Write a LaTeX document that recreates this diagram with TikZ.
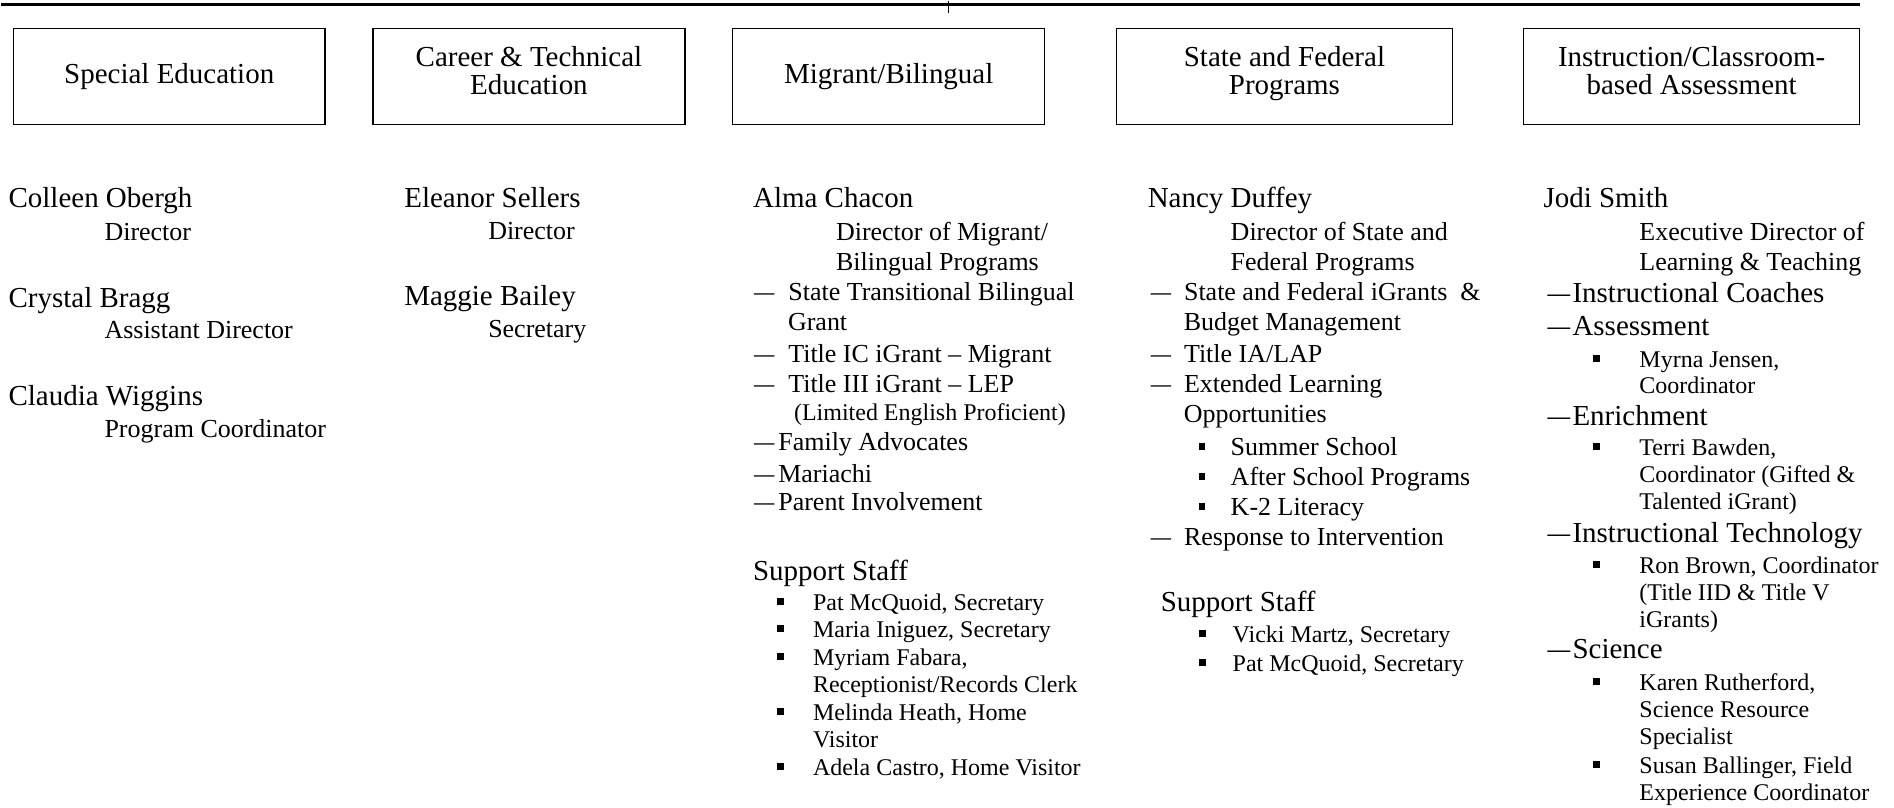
\documentclass[tikz,border=0pt]{standalone}
\usepackage{fontspec}
\setmainfont{Liberation Serif}
\usepackage{graphicx}
\usepackage{tikz}
\usetikzlibrary{positioning}
\newcommand{\sdash}{\scalebox{0.78}[1]{\textemdash}}

\begin{document}
\begin{tikzpicture}[x=0.75pt,y=0.75pt,yscale=-1,xscale=1,
  deptbox/.style={draw, line width=1pt, minimum width=234pt, minimum height=72pt, inner sep=0pt, align=center, font=\fontsize{21.75}{21}\selectfont},
  twoline/.style={text depth=9pt},
  widebox/.style={deptbox, minimum width=252pt},
  person/.style={anchor=base west, inner sep=0pt, font=\fontsize{21.75}{26}\selectfont},
  duty/.style={anchor=base west, inner sep=0pt, font=\fontsize{19.5}{23}\selectfont},
  staffline/.style={anchor=base west, inner sep=0pt, font=\fontsize{18}{21}\selectfont},
  sqbullet/.style={fill, inner sep=0pt, minimum size=5.25pt}]
\path (0,0) rectangle (1894,807); %page size of the reference
%Top rule and tick
\coordinate (ruleL) at (0,4);
\coordinate (ruleR) at (1860,4);
\coordinate (tickT) at (948,0);
\coordinate (tickB) at (948,12);
\draw [line width=2pt] (ruleL) -- (ruleR);
\draw [line width=1pt] (tickT) -- (tickB);
% Department boxes
\draw (168,76) node [deptbox] (special) {Special Education};
\draw (528,76) node [deptbox, twoline] (career) {Career \& Technical\\Education};
\draw (888,76) node [deptbox] (migrant) {Migrant/Bilingual};
\draw (1284,76) node [widebox, twoline] (statefed) {State and Federal\\Programs};
\draw (1691.5,76) node [widebox, twoline] (instruct) {Instruction/Classroom-\\based Assessment};
% Special Education staff
\draw (7,207) node [person] (colleen) {Colleen Obergh};
\draw (103,240) node [duty] (colleenR) {Director};
\draw (7,307) node [person] (crystal) {Crystal Bragg};
\draw (103,338) node [duty] (crystalR) {Assistant Director};
\draw (7,405) node [person] (claudia) {Claudia Wiggins};
\draw (103,437) node [duty] (claudiaR) {Program Coordinator};
% Career & Technical staff
\draw (403,207) node [person] (eleanor) {Eleanor Sellers};
\draw (487,239) node [duty] (eleanorR) {Director};
\draw (403,305) node [person] (maggie) {Maggie Bailey};
\draw (487,337) node [duty] (maggieR) {Secretary};
% Migrant/Bilingual
\draw (752,207) node [person] (alma) {Alma Chacon};
\draw (835,240) node [duty] (almaR1) {Director of Migrant/};
\draw (835,270) node [duty] (almaR2) {Bilingual Programs};
\draw (753,300) node [duty] (mb1) {\sdash\hspace{10.5pt}State Transitional Bilingual};
\draw (787,330) node [duty] (mb1b) {Grant};
\draw (753,362) node [duty] (mb2) {\sdash\hspace{10.5pt}Title IC iGrant \textendash{} Migrant};
\draw (753,392) node [duty] (mb3) {\sdash\hspace{10.5pt}Title III iGrant \textendash{} LEP};
\draw (793,420) node [staffline] (mb3b) {(Limited English Proficient)};
\draw (753,450) node [duty] (mb4) {\sdash\hspace{3pt}Family Advocates};
\draw (753,482) node [duty] (mb5) {\sdash\hspace{3pt}Mariachi};
\draw (753,510) node [duty] (mb6) {\sdash\hspace{3pt}Parent Involvement};
\draw (752,580) node [person] (mbstaff) {Support Staff};
\draw (780,601) node [sqbullet] (mbq1) {};
\draw (812,610) node [staffline] (mbs1) {Pat McQuoid, Secretary};
\draw (780,628) node [sqbullet] (mbq2) {};
\draw (812,637) node [staffline] (mbs2) {Maria Iniguez, Secretary};
\draw (780,656) node [sqbullet] (mbq3) {};
\draw (812,665) node [staffline] (mbs3) {Myriam Fabara,};
\draw (812,692) node [staffline] (mbs3b) {Receptionist/Records Clerk};
\draw (780,711) node [sqbullet] (mbq4) {};
\draw (812,720) node [staffline] (mbs4) {Melinda Heath, Home};
\draw (812,747) node [staffline] (mbs4b) {Visitor};
\draw (780,766) node [sqbullet] (mbq5) {};
\draw (812,775) node [staffline] (mbs5) {Adela Castro, Home Visitor};
% State and Federal Programs
\draw (1147,207) node [person] (nancy) {Nancy Duffey};
\draw (1230,240) node [duty] (nancyR1) {Director of State and};
\draw (1230,270) node [duty] (nancyR2) {Federal Programs};
\draw (1150,300) node [duty] (sf1) {\sdash\hspace{9.75pt}State and Federal iGrants\ \ \&};
\draw (1183,330) node [duty] (sf1b) {Budget Management};
\draw (1150,362) node [duty] (sf2) {\sdash\hspace{9.75pt}Title IA/LAP};
\draw (1150,392) node [duty] (sf3) {\sdash\hspace{9.75pt}Extended Learning};
\draw (1183,422) node [duty] (sf3b) {Opportunities};
\draw (1201.5,446) node [sqbullet] (sfq1) {};
\draw (1230,455) node [duty] (sfe1) {Summer School};
\draw (1201.5,476) node [sqbullet] (sfq2) {};
\draw (1230,485) node [duty] (sfe2) {After School Programs};
\draw (1201.5,506) node [sqbullet] (sfq3) {};
\draw (1230,515) node [duty] (sfe3) {K-2 Literacy};
\draw (1150,545) node [duty] (sf4) {\sdash\hspace{9.75pt}Response to Intervention};
\draw (1160,611) node [person] (sfstaff) {Support Staff};
\draw (1202,633) node [sqbullet] (sfq4) {};
\draw (1232,642) node [staffline] (sfs1) {Vicki Martz, Secretary};
\draw (1202,662) node [sqbullet] (sfq5) {};
\draw (1232,671) node [staffline] (sfs2) {Pat McQuoid, Secretary};
% Instruction/Classroom-based Assessment
\draw (1543,207) node [person] (jodi) {Jodi Smith};
\draw (1639,240) node [duty] (jodiR1) {Executive Director of};
\draw (1639,270) node [duty] (jodiR2) {Learning \& Teaching};
\draw (1547,302) node [person] (ic1) {\sdash\hspace{1.8pt}Instructional Coaches};
\draw (1547,335) node [person] (ic2) {\sdash\hspace{1.8pt}Assessment};
\draw (1596.5,358) node [sqbullet] (icq1) {};
\draw (1639,367) node [staffline] (ics1) {Myrna Jensen,};
\draw (1639,393) node [staffline] (ics1b) {Coordinator};
\draw (1547,425) node [person] (ic3) {\sdash\hspace{1.8pt}Enrichment};
\draw (1596.5,446) node [sqbullet] (icq2) {};
\draw (1639,455) node [staffline] (ics2) {Terri Bawden,};
\draw (1639,482) node [staffline] (ics2b) {Coordinator (Gifted \&};
\draw (1639,509) node [staffline] (ics2c) {Talented iGrant)};
\draw (1547,542) node [person] (ic4) {\sdash\hspace{1.8pt}Instructional Technology};
\draw (1596.5,564) node [sqbullet] (icq3) {};
\draw (1639,573) node [staffline] (ics3) {Ron Brown, Coordinator};
\draw (1639,600) node [staffline] (ics3b) {(Title IID \& Title V};
\draw (1639,627) node [staffline] (ics3c) {iGrants)};
\draw (1547,658) node [person] (ic5) {\sdash\hspace{1.8pt}Science};
\draw (1596.5,681) node [sqbullet] (icq4) {};
\draw (1639,690) node [staffline] (ics4) {Karen Rutherford,};
\draw (1639,717) node [staffline] (ics4b) {Science Resource};
\draw (1639,744) node [staffline] (ics4c) {Specialist};
\draw (1596.5,764) node [sqbullet] (icq5) {};
\draw (1639,773) node [staffline] (ics5) {Susan Ballinger, Field};
\draw (1639,800) node [staffline] (ics5b) {Experience Coordinator};
\end{tikzpicture}
\end{document}
